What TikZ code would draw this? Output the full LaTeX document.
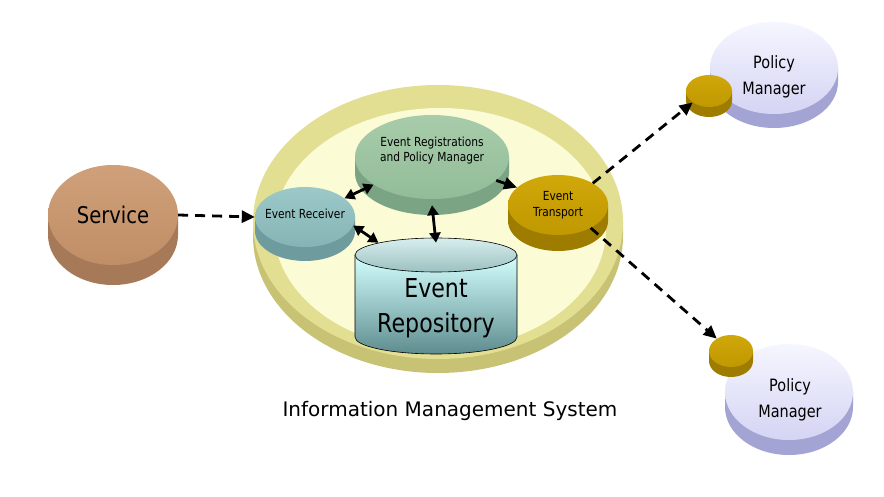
\documentclass[tikz,border=0pt]{standalone}
\usepackage{fontspec}
\setmainfont{DejaVu Sans}
\newfontfamily\nar[FakeStretch=0.85]{DejaVu Sans}
\usetikzlibrary{shapes.geometric,arrows.meta}
\definecolor{imsring}{HTML}{E2DE92}
\definecolor{imsside}{HTML}{C8C274}
\definecolor{imsin}{HTML}{FBFBD6}
\definecolor{svcA}{HTML}{CFA07A}
\definecolor{svcB}{HTML}{C08E66}
\definecolor{svcS}{HTML}{A67A58}
\definecolor{rcvA}{HTML}{9CC8C8}
\definecolor{rcvB}{HTML}{86B4B6}
\definecolor{rcvS}{HTML}{6E9C9E}
\definecolor{regA}{HTML}{A8CCAA}
\definecolor{regB}{HTML}{92BC98}
\definecolor{regS}{HTML}{7AA484}
\definecolor{trA}{HTML}{D0A80A}
\definecolor{trB}{HTML}{C09800}
\definecolor{trS}{HTML}{9E7C00}
\definecolor{pmA}{HTML}{F6F6FF}
\definecolor{pmB}{HTML}{D4D4F4}
\definecolor{pmS}{HTML}{A4A4D4}
\definecolor{repA}{HTML}{D4FFFF}
\definecolor{repB}{HTML}{5E8C8E}
\definecolor{reptA}{HTML}{D8EEEE}
\definecolor{reptB}{HTML}{9CC0C0}
\newcommand\discside[6]{\fill[#6] (#1-#3,-#2) -- (#1-#3,-#2-#5) arc[start angle=180,end angle=360,x radius=#3,y radius=#4] -- (#1+#3,-#2) -- cycle;}
\tikzset{
  dsz/.style 2 args={ellipse, inner sep=0pt, minimum width=#1, minimum height=#2, align=center},
  arr/.style={line width=2.8pt, -{Triangle[length=13pt,width=12pt]}},
  darr/.style={line width=2.8pt, {Triangle[length=10pt,width=11pt]}-{Triangle[length=10pt,width=11pt]}},
  dsh/.style={arr, dash pattern=on 10pt off 7pt},
  small/.style={font=\nar\fontsize{12.5}{16}\selectfont, inner sep=0pt},
  pmtext/.style={font=\nar\fontsize{17}{26}\selectfont, align=center},
}
\begin{document}
\begin{tikzpicture}[x=1pt,y=1pt]
\useasboundingbox[fill=white] (0,0) rectangle (884,-497);

% Information Management System disc
\discside{438}{222}{185}{137}{14}{imsside}
\node[dsz={370pt}{274pt}, fill=imsring] (ims) at (438,-222) {};
\node[dsz={332pt}{242pt}, fill=imsin] (imsin) at (440,-229) {};
\node[font=\fontsize{20}{24}\selectfont] (imslbl) at (450,-411) {Information Management System};

% Service
\discside{113}{215}{65}{50}{20}{svcS}
\node[dsz={130pt}{100pt}, top color=svcA, bottom color=svcB, font=\nar\fontsize{23}{26}\selectfont] (svc) at (113,-215) {Service};

% Event Receiver
\discside{305}{217}{50}{30}{14}{rcvS}
\node[dsz={100pt}{60pt}, top color=rcvA, bottom color=rcvB] (recv) at (305,-217) {};
\node[small] (recvtxt) at (305,-214) {Event Receiver};

% Event Registrations
\discside{432}{157}{77}{42}{16}{regS}
\node[dsz={154pt}{84pt}, top color=regA, bottom color=regB] (reg) at (432,-157) {};
\node[small, align=center] (regtxt) at (432,-151) {Event Registrations\\[-1pt]and Policy Manager};

% Event Transport
\discside{558}{205}{50}{30}{16}{trS}
\node[dsz={100pt}{60pt}, top color=trA, bottom color=trB] (trans) at (558,-205) {};
\node[small, align=center] (transtxt) at (558,-205) {Event\\Transport};

% Event Repository
\shade[top color=repA, bottom color=repB, draw=black, line width=0.6pt] (355,-255) -- (355,-337) arc[start angle=180,end angle=360,x radius=81,y radius=17] -- (517,-255) -- cycle;
\node[dsz={162pt}{34pt}, top color=reptA, bottom color=reptB, draw=black, line width=0.6pt] (repotop) at (436,-255) {};
\node[font=\nar\fontsize{26}{35}\selectfont, align=center] (repo) at (436,-308) {Event\\Repository};

% Policy Manager (top)
\discside{774}{68}{64}{46}{14}{pmS}
\node[dsz={128pt}{92pt}, top color=pmA, bottom color=pmB] (pm1) at (774,-68) {};
\node[pmtext] (pm1txt) at (774,-77) {Policy\\Manager};
\discside{709}{91}{23}{16}{10}{trS}
\node[dsz={46pt}{32pt}, top color=trA, bottom color=trB] (g1) at (709,-91) {};

% Policy Manager (bottom)
\discside{789}{392}{64}{48}{15}{pmS}
\node[dsz={128pt}{96pt}, top color=pmA, bottom color=pmB] (pm2) at (789,-392) {};
\node[pmtext] (pm2txt) at (790,-400) {Policy\\Manager};
\discside{731}{351}{22}{16}{10}{trS}
\node[dsz={44pt}{32pt}, top color=trA, bottom color=trB] (g2) at (731,-351) {};

% Connectors
\draw[dsh] (svc.east) -- (recv.west);
\draw[darr] (recv) -- (reg);
\draw[darr] (recv.-10) -- (repotop.168);
\draw[darr] ([yshift=-6pt]reg.south) -- ([yshift=-5pt]repotop.north);
\draw[arr] (reg.-20) -- (trans.157);
\draw[dsh] (trans.32) -- (g1.215);
\draw[dsh] (trans.-35) -- (g2.139);
\end{tikzpicture}
\end{document}
